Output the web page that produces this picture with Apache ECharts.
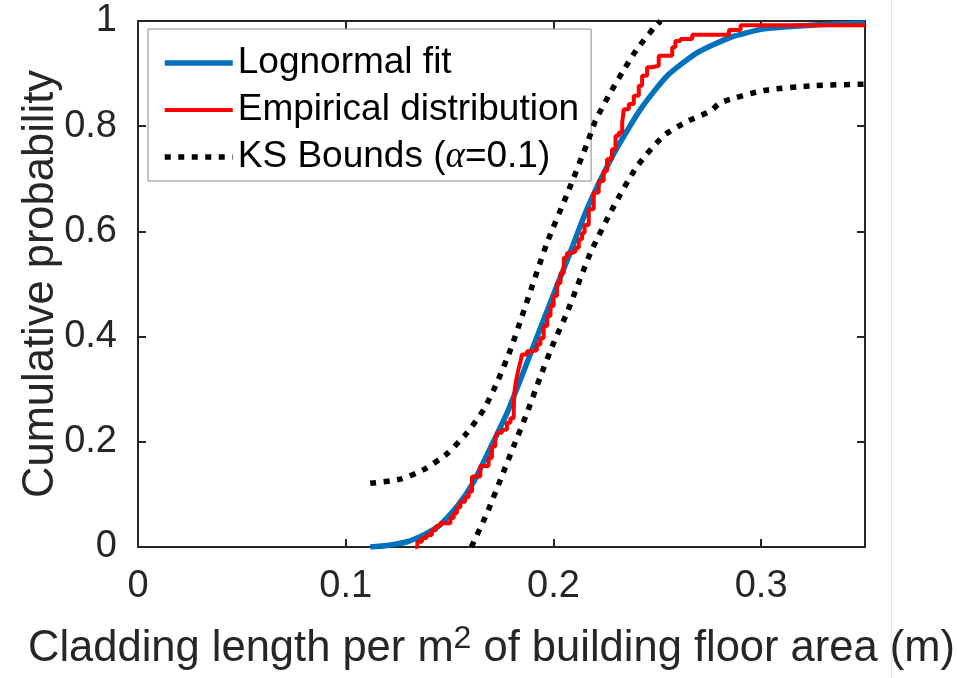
<!DOCTYPE html>
<html>
<head>
<meta charset="utf-8">
<script src="https://cdn.jsdelivr.net/npm/echarts@6.0.0/dist/echarts.min.js"></script>
<style>
html, body { margin: 0; padding: 0; background: #fff; }
#main { width: 957px; height: 678px; }
</style>
</head>
<body>
<div id="main"></div>
<script>
// lognormal fit
var fitX = [0.1118, 0.1200, 0.1295, 0.1380, 0.1455, 0.1536, 0.1616, 0.1696, 0.1777, 0.1857, 0.1937, 0.2017, 0.2074, 0.2162, 0.2291, 0.2419, 0.2548, 0.2693, 0.2853, 0.3014, 0.3245, 0.3500];
var fitY = [0.000, 0.003, 0.010, 0.024, 0.042, 0.077, 0.124, 0.188, 0.255, 0.334, 0.416, 0.497, 0.553, 0.643, 0.748, 0.832, 0.896, 0.940, 0.969, 0.985, 0.992, 0.996];

// empirical CDF, level after each jump
var ecdfX = [0.1335, 0.1345, 0.1367, 0.1390, 0.1415, 0.1435, 0.1455, 0.1504, 0.1520, 0.1535, 0.1552, 0.1575, 0.1592, 0.1608, 0.1648, 0.1688, 0.1704, 0.1720, 0.1728, 0.1752, 0.1776, 0.1793, 0.1809, 0.1812, 0.1817, 0.1824, 0.1833, 0.1840, 0.1849, 0.1873, 0.1897, 0.1920, 0.1937, 0.1953, 0.1970, 0.1986, 0.2001, 0.2017, 0.2034, 0.2050, 0.2065, 0.2090, 0.2106, 0.2122, 0.2138, 0.2150, 0.2170, 0.2194, 0.2218, 0.2242, 0.2258, 0.2282, 0.2299, 0.2315, 0.2331, 0.2339, 0.2363, 0.2387, 0.2411, 0.2427, 0.2451, 0.2475, 0.2507, 0.2572, 0.2587, 0.2612, 0.2668, 0.2845, 0.2901, 0.3500];
var ecdfY = [0.000, 0.010, 0.017, 0.023, 0.032, 0.040, 0.045, 0.055, 0.064, 0.075, 0.086, 0.095, 0.105, 0.134, 0.154, 0.169, 0.191, 0.204, 0.217, 0.223, 0.236, 0.245, 0.261, 0.293, 0.309, 0.324, 0.340, 0.350, 0.366, 0.372, 0.374, 0.385, 0.397, 0.420, 0.439, 0.458, 0.477, 0.502, 0.521, 0.550, 0.559, 0.562, 0.569, 0.585, 0.597, 0.612, 0.642, 0.674, 0.696, 0.715, 0.737, 0.756, 0.782, 0.788, 0.807, 0.832, 0.842, 0.858, 0.877, 0.896, 0.912, 0.915, 0.934, 0.950, 0.962, 0.966, 0.974, 0.983, 0.992, 0.992];

// KS bounds
var upX = [0.1118, 0.1263, 0.1375, 0.1487, 0.1584, 0.1664, 0.1728, 0.1793, 0.1849, 0.1969, 0.2065, 0.2162, 0.2202, 0.2266, 0.2331, 0.2403, 0.2484, 0.2516];
var upY = [0.121, 0.129, 0.147, 0.177, 0.217, 0.261, 0.312, 0.375, 0.439, 0.578, 0.670, 0.767, 0.810, 0.858, 0.902, 0.947, 0.987, 1.000];
var lowX = [0.1605, 0.1680, 0.1745, 0.1808, 0.1873, 0.1937, 0.2001, 0.2065, 0.2178, 0.2291, 0.2403, 0.2531, 0.2644, 0.2757, 0.2805, 0.3014, 0.3254, 0.3500];
var lowY = [0.000, 0.064, 0.128, 0.191, 0.255, 0.324, 0.388, 0.445, 0.559, 0.648, 0.724, 0.782, 0.809, 0.829, 0.845, 0.868, 0.877, 0.880];

var seriesNames = ['Lognormal fit', 'Empirical distribution', 'KS Bounds (\u03b1=0.1)'];
var xTicks = { min: 0, max: 0.35, interval: 0.1 };
var yTicks = { min: 0, max: 1, interval: 0.2 };

function pairs(xs, ys) {
	return xs.map(function (x, i) { return [x, ys[i]]; });
}

var axisColor = '#262626';
var font = 'Liberation Sans, Arial, Helvetica, sans-serif';
var fitLine = { color: '#0072BD', width: 5.5 };
var ecdfLine = { color: '#FF0000', width: 4 };
var ksLine = { color: '#000', width: 5.5, type: [6, 7.5], cap: 'butt' };

function frameAxis(pos, t) {
	return {
		type: 'value',
		position: pos,
		min: t.min, max: t.max, interval: t.interval,
		axisLine: { show: true, onZero: false, lineStyle: { color: axisColor, width: 2 } },
		axisTick: { show: true, inside: true, length: 8, lineStyle: { color: axisColor, width: 2 } },
		axisLabel: { show: false },
		splitLine: { show: false }
	};
}

var myChart = echarts.init(document.getElementById('main'));
option = {
	animation: false,
	backgroundColor: '#fff',
	grid: { left: 138, right: 92, top: 21, bottom: 131, outerBoundsMode: 'none', containLabel: false },
	graphic: [{
		type: 'line',
		shape: { x1: 891.5, y1: 0, x2: 891.5, y2: 678 },
		style: { stroke: '#e4e4e4', lineWidth: 1 }
	}],
	legend: {
		orient: 'vertical',
		left: 148,
		top: 29,
		padding: [14, 12, 4, 14],
		itemWidth: 68,
		itemHeight: 14,
		itemGap: 7,
		backgroundColor: '#fff',
		borderColor: '#8a8a8a',
		borderWidth: 1,
		borderRadius: 0,
		itemStyle: { opacity: 0 },
		data: [
			{ name: seriesNames[0], lineStyle: fitLine },
			{ name: seriesNames[1], lineStyle: ecdfLine },
			{ name: seriesNames[2], lineStyle: ksLine }
		],
		formatter: function (name) {
			return name.replace('\u03b1', '{a|\u03b1}');
		},
		textStyle: {
			fontFamily: font,
			fontSize: 37,
			lineHeight: 40,
			color: '#000',
			rich: {
				a: { fontFamily: 'Liberation Serif, DejaVu Serif, serif', fontStyle: 'italic', fontSize: 37, color: '#000' }
			}
		}
	},
	xAxis: [{
		type: 'value',
		position: 'bottom',
		min: xTicks.min, max: xTicks.max, interval: xTicks.interval,
		axisLine: { show: true, onZero: false, lineStyle: { color: axisColor, width: 2 } },
		axisTick: { show: true, inside: true, length: 8, lineStyle: { color: axisColor, width: 2 } },
		axisLabel: { margin: 21, fontSize: 38, fontFamily: font, color: axisColor, showMaxLabel: false },
		splitLine: { show: false },
		name: 'Cladding length per m{sup|2} of building floor area (m)',
		nameLocation: 'middle',
		nameGap: 76,
		nameMoveOverlap: false,
		nameTextStyle: {
			fontFamily: font,
			fontSize: 43.5,
			lineHeight: 52,
			color: axisColor,
			padding: [0, 20, 0, 0],
			rich: {
				sup: { fontFamily: font, fontSize: 32, lineHeight: 32, verticalAlign: 'top', color: axisColor }
			}
		}
	}, frameAxis('top', xTicks)],
	yAxis: [{
		type: 'value',
		position: 'left',
		min: yTicks.min, max: yTicks.max, interval: yTicks.interval,
		axisLine: { show: true, onZero: false, lineStyle: { color: axisColor, width: 2 } },
		axisTick: { show: true, inside: true, length: 8, lineStyle: { color: axisColor, width: 2 } },
		axisLabel: { margin: 21, fontSize: 38, fontFamily: font, color: axisColor },
		splitLine: { show: false },
		name: 'Cumulative probability',
		nameLocation: 'middle',
		nameGap: 75,
		nameMoveOverlap: false,
		nameTextStyle: { fontFamily: font, fontSize: 43.5, color: axisColor }
	}, frameAxis('right', yTicks)],
	series: [{
		name: seriesNames[0],
		type: 'line',
		data: pairs(fitX, fitY),
		symbol: 'none',
		smooth: 0.2,
		itemStyle: { color: '#0072BD' },
		lineStyle: fitLine,
		z: 2
	}, {
		name: seriesNames[1],
		type: 'line',
		step: 'end',
		data: pairs(ecdfX, ecdfY),
		symbol: 'none',
		itemStyle: { color: '#FF0000' },
		lineStyle: ecdfLine,
		z: 3
	}, {
		name: seriesNames[2],
		type: 'line',
		data: pairs(upX, upY),
		symbol: 'none',
		smooth: 0.2,
		itemStyle: { color: '#000' },
		lineStyle: ksLine,
		z: 4
	}, {
		name: seriesNames[2],
		type: 'line',
		data: pairs(lowX, lowY),
		symbol: 'none',
		smooth: 0.2,
		itemStyle: { color: '#000' },
		lineStyle: ksLine,
		z: 4
	}]
};
myChart.setOption(option);
</script>
</body>
</html>
